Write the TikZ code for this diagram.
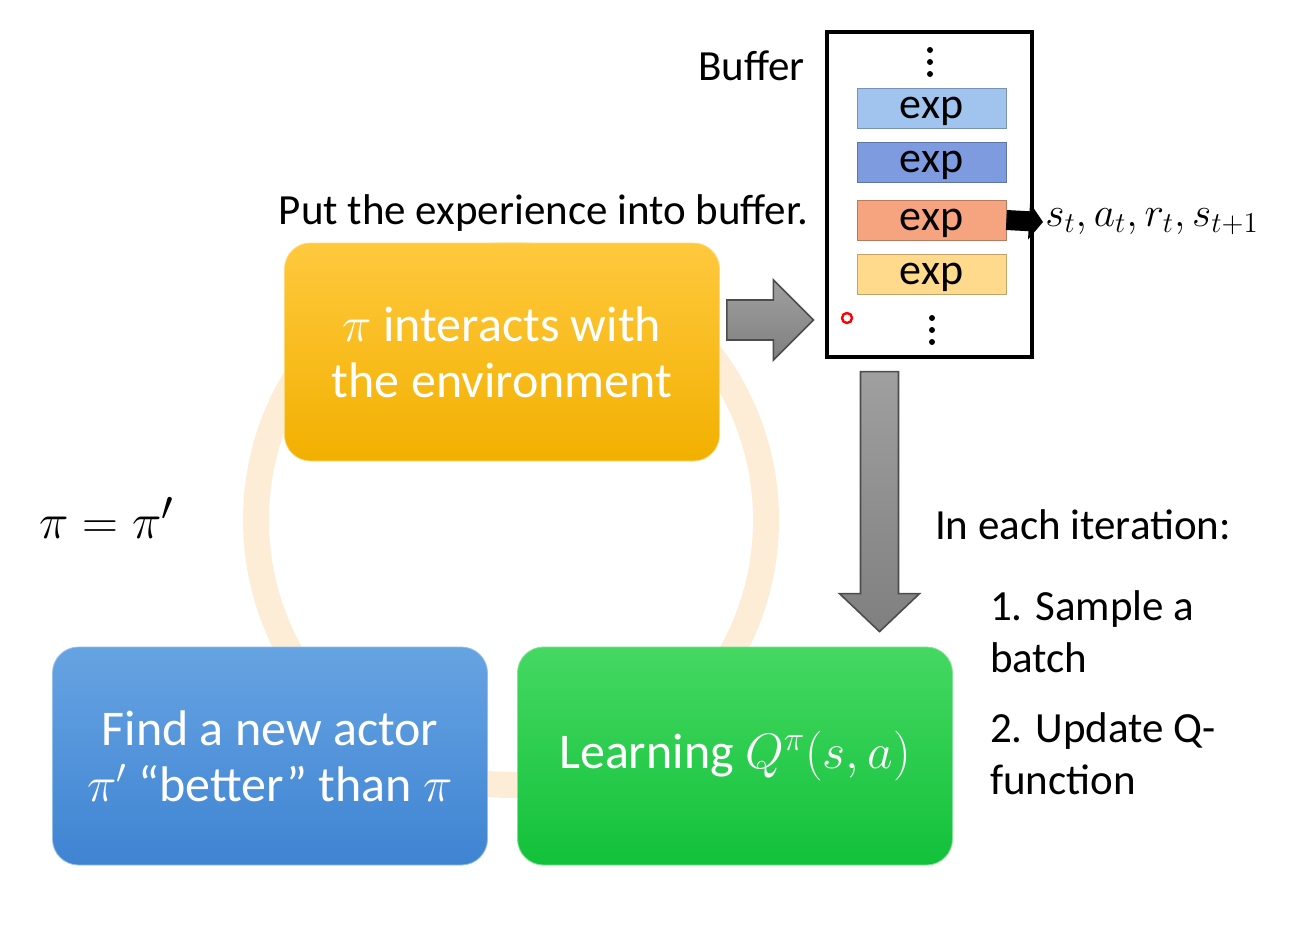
\documentclass[tikz,border=0pt]{standalone}
\usepackage{fontspec}
\setmainfont{Carlito}
\usepackage{xcolor}
\usepackage{tikz}
\usetikzlibrary{arrows.meta,positioning,calc}

\definecolor{envtop}{HTML}{FFC93E}
\definecolor{envbot}{HTML}{F2B000}
\definecolor{actortop}{HTML}{66A3E2}
\definecolor{actorbot}{HTML}{3F84D2}
\definecolor{learntop}{HTML}{45D862}
\definecolor{learnbot}{HTML}{12C13A}
\definecolor{ringcol}{HTML}{FDECD6}
\definecolor{expa}{HTML}{A0C4EE}
\definecolor{expb}{HTML}{7F9BDF}
\definecolor{expc}{HTML}{F6A37F}
\definecolor{expd}{HTML}{FFD98C}

\begin{document}
\begin{tikzpicture}[x=0.5pt,y=-0.5pt,
  cyclebox/.style={rounded corners=13pt,minimum width=217.5pt,minimum height=109pt,
    text=white,align=center,font=\fontsize{25}{28}\selectfont},
  expbox/.style={draw=#1!75!black,fill=#1,minimum width=74.5pt,minimum height=20pt,
    inner sep=0pt,text depth=0pt,font=\fontsize{22}{24}\selectfont},
  note/.style={font=\fontsize{21.5}{26}\selectfont,align=left},
  blockarrow/.style={draw=black!70,line width=0.8pt,top color=gray!75,bottom color=gray!100}]
\useasboundingbox (0,0) rectangle (1300,932);
% faint cycle behind the boxes
\draw[ringcol,line width=13pt] (511,520) ellipse (255 and 265);
\node[cyclebox,top color=envtop,bottom color=envbot,draw=envtop!70!white] (env) at (502,352)
  {$\pi$ interacts with\\the environment};
\node[cyclebox,top color=actortop,bottom color=actorbot,draw=actortop!70!white] (actor) at (270,756)
  {Find a new actor\\$\pi'$ “better” than $\pi$};
\node[cyclebox,top color=learntop,bottom color=learnbot,draw=learntop!70!white] (learn) at (735,756)
  {Learning $Q^{\pi}(s,a)$};
\node[font=\fontsize{28}{30}\selectfont] (update) at (107,518) {$\pi=\pi'$};

% buffer
\node[draw,line width=1.6pt,minimum width=102.5pt,minimum height=162.5pt] (buf) at (929.5,194.5) {};
\node[expbox=expa] (exp1) at (931.5,108) {exp};
\node[expbox=expb] (exp2) at (931.5,162) {exp};
\node[expbox=expc] (exp3) at (931.5,220) {exp};
\node[expbox=expd] (exp4) at (931.5,274) {exp};
\foreach \y in {50,62,74} \fill (930,\y) circle (3);
\foreach \y in {318,330,342} \fill (932,\y) circle (3);
\node[note,anchor=east] (buflabel) at (812,66) {Buffer};
\node[note,anchor=east] (put) at (815,213) {Put the experience into buffer.};
\node[anchor=west,inner sep=1pt,font=\fontsize{21.5}{26}\selectfont] (tuple) at (1043,222) {$s_t,a_t,r_t,s_{t+1}$};
\draw[line width=10pt,-{Triangle[length=7pt,width=18pt]}] (exp3.east) -- (tuple.west);
\draw[red,line width=1.2pt] (847,318) circle (5);

% gray block arrows
\coordinate (a1) at ($(env.east |- 0,320)+(7,0)$);
\coordinate (a2) at ($(buf.west |- 0,320)+(-12,0)$);
\draw[blockarrow] ($(a1)+(0,-20)$) -- ($(a2)+(-40,-20)$) -- ($(a2)+(-40,-40)$) -- (a2)
  -- ($(a2)+(-40,40)$) -- ($(a2)+(-40,20)$) -- ($(a1)+(0,20)$) -- cycle;
\coordinate (a3) at ($(buf.south)+(-50,13)$);
\coordinate (a4) at ($(learn.north -| a3)+(0,-15)$);
\draw[blockarrow] ($(a3)+(-19,0)$) -- ($(a4)+(-19,-38)$) -- ($(a4)+(-40,-38)$) -- (a4)
  -- ($(a4)+(40,-38)$) -- ($(a4)+(19,-38)$) -- ($(a3)+(19,0)$) -- cycle;

\node[note,anchor=west] (iter) at (928,525) {In each iteration:};
\node[note,anchor=west] (step1) at (983,632) {1. Sample a\\batch};
\node[note,anchor=west] (step2) at (983,754) {2. Update Q-\\function};
\end{tikzpicture}
\end{document}
